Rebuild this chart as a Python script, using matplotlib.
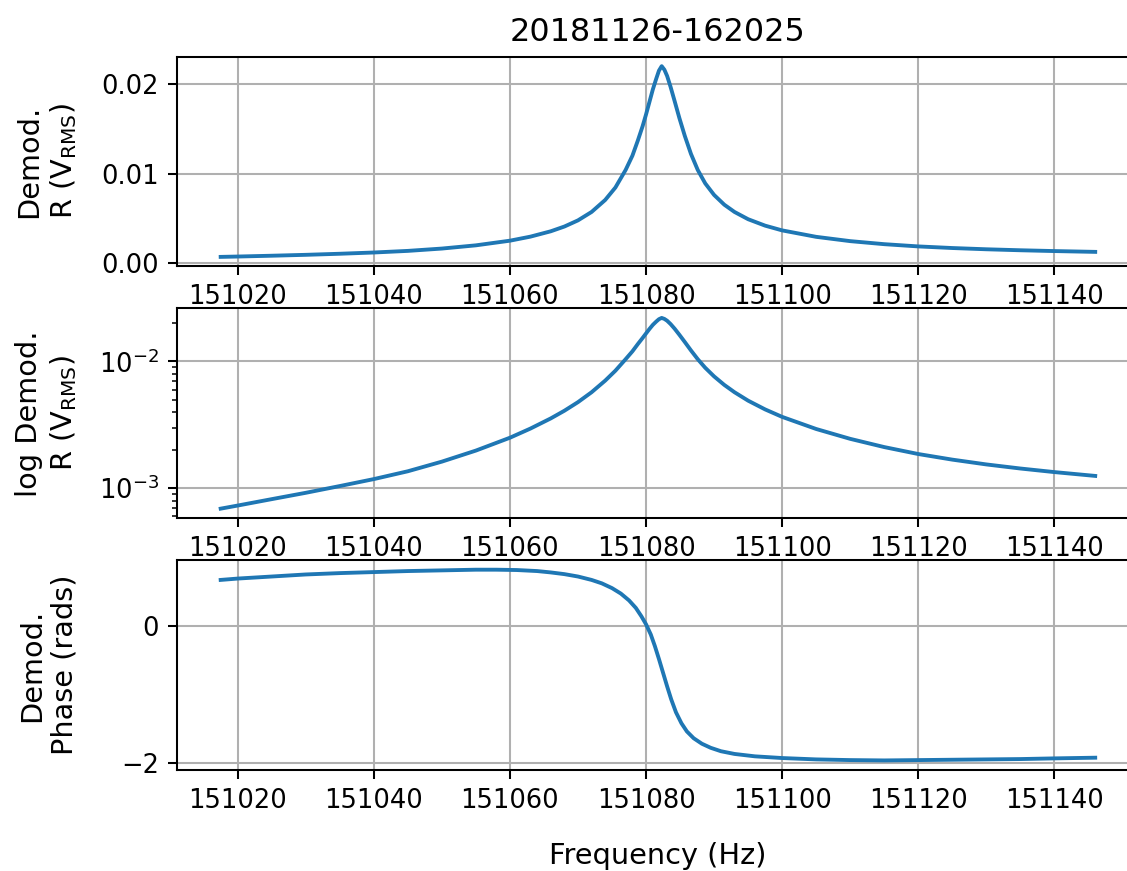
import matplotlib
matplotlib.use("Agg")
import matplotlib.pyplot as plt

# balayage en fréquence (Hz) et amplitude démodulée R (V_RMS)
freq_r = [151017.5, 151020, 151025, 151030, 151035, 151040, 151045, 151050,
          151055, 151060, 151063, 151066, 151068, 151070, 151072, 151074,
          151075.5, 151077, 151078, 151078.8, 151079.5, 151080, 151080.5,
          151081, 151081.5, 151081.9, 151082.3, 151082.7, 151083.1, 151083.6,
          151084.2, 151084.9, 151085.7, 151086.6, 151087.6, 151088.7, 151090,
          151091.5, 151093, 151095, 151097.5, 151100, 151105, 151110, 151115,
          151120, 151125, 151130, 151135, 151140, 151146]
r_vals = [0.00069, 0.00073, 0.00082, 0.00092, 0.00104, 0.00118, 0.00136, 0.00162,
          0.00198, 0.00250, 0.00295, 0.00355, 0.00408, 0.00477, 0.00571, 0.00705,
          0.00844, 0.01040, 0.01200, 0.01370, 0.01530, 0.01660, 0.01800,
          0.01940, 0.02060, 0.02150, 0.02200, 0.02160, 0.02090, 0.01970,
          0.01810, 0.01620, 0.01420, 0.01220, 0.01040, 0.00890, 0.00761,
          0.00652, 0.00571, 0.00490, 0.00418, 0.00365, 0.00293, 0.00245, 0.00211,
          0.00186, 0.00168, 0.00154, 0.00143, 0.00134, 0.00125]

# phase démodulée (rad)
freq_phase = [151017.5, 151020, 151025, 151030, 151035, 151040, 151045, 151050,
              151055, 151058, 151061, 151064, 151066, 151068, 151070, 151072,
              151073.5, 151075, 151076.3, 151077.5, 151078.5, 151079.3, 151080,
              151080.7, 151081.3, 151081.9, 151082.5, 151083.1, 151083.7,
              151084.4, 151085.2, 151086, 151087, 151088.2, 151089.5, 151091,
              151093, 151096, 151100, 151105, 151110, 151115, 151120, 151125,
              151130, 151135, 151140, 151146]
phase_vals = [0.68, 0.70, 0.73, 0.76, 0.78, 0.795, 0.81, 0.82,
              0.83, 0.83, 0.825, 0.81, 0.79, 0.765, 0.73, 0.68,
              0.63, 0.56, 0.48, 0.38, 0.27, 0.15, 0.03,
              -0.12, -0.29, -0.48, -0.68, -0.88, -1.07,
              -1.26, -1.42, -1.54, -1.64, -1.72, -1.78, -1.83,
              -1.87, -1.905, -1.93, -1.95, -1.96, -1.965, -1.96, -1.955,
              -1.95, -1.945, -1.935, -1.925]

TITLE = "20181126-162025"
DPI = 185
LABEL_SIZE = 11.2

fig, (ax1, ax2, ax3) = plt.subplots(3, 1, figsize=(1127 / DPI, 871 / DPI), dpi=DPI)
fig.subplots_adjust(left=0.157, right=1.0106, top=0.935, bottom=0.116, hspace=0.2)

# amplitude linéaire
ax1.plot(freq_r, r_vals)
ax1.set_yticks([0, 0.01, 0.02])
ax1.set_ylabel("Demod.\nR (V$_{\\rm RMS}$)", fontsize=LABEL_SIZE)
ax1.set_title(TITLE, fontsize=12.4)
ax1.grid(True)

# amplitude log
ax2.semilogy(freq_r, r_vals)
ax2.set_ylabel("log Demod.\nR (V$_{\\rm RMS}$)", fontsize=LABEL_SIZE)
ax2.grid(True)

# phase
ax3.plot(freq_phase, phase_vals)
ax3.set_yticks([-2, 0])
ax3.set_ylabel("Demod.\nPhase (rads)", fontsize=LABEL_SIZE)
ax3.set_xlabel("Frequency (Hz)", fontsize=LABEL_SIZE, labelpad=11)
ax3.grid(True)

for ax in (ax1, ax2, ax3):
    ax.ticklabel_format(axis='x', useOffset=False, style='plain')
    ax.yaxis.set_label_coords(-0.102, 0.5)

fig.savefig("out.png", dpi=DPI)
